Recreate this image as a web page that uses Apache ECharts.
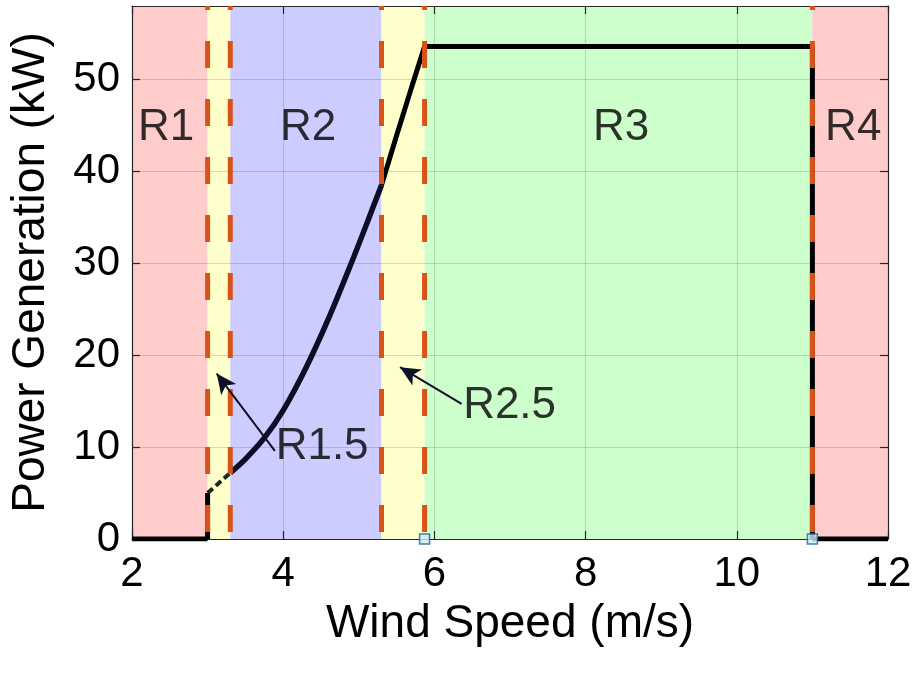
<!DOCTYPE html>
<html>
<head>
<meta charset="utf-8">
<script src="https://cdn.jsdelivr.net/npm/echarts@6/dist/echarts.min.js"></script>
<style>
html,body{margin:0;padding:0;background:#fff;}
#chart{width:916px;height:676px;}
</style>
</head>
<body>
<div id="chart"></div>
<script>
// ---- data ----
const xTickValues = [2, 4, 6, 8, 10, 12];
const yTickValues = [0, 10, 20, 30, 40, 50];

// operating regions (wind speed bounds)
const regionNames = ['R1', 'R1.5', 'R2', 'R2.5', 'R3', 'R4'];
const regionStart = [2.0, 3.0, 3.3, 5.3, 5.87, 11.0];
const regionEnd   = [3.0, 3.3, 5.3, 5.87, 11.0, 12.0];

// dashed boundary lines
const boundaryX = [3.0, 3.3, 5.3, 5.87, 11.0];

// power curve pieces
const offLeftV = [2.0, 3.0];
const offLeftP = [0, 0];
const cutInV = [3.0, 3.0];
const cutInP = [0, 5.0];
const r15V = [3.0, 3.15, 3.3];
const r15P = [5.0, 6.1, 7.2];
const r2V = [3.3, 3.5, 3.75, 4.0, 4.3, 4.6, 4.9, 5.1, 5.3];
const r2P = [7.2, 8.7, 11.0, 14.0, 18.6, 24.0, 30.0, 34.2, 38.5];
const r25V = [5.3, 5.5, 5.7, 5.87];
const r25P = [38.5, 43.9, 49.2, 53.6];
const ratedV = [5.87, 11.0];
const ratedP = [53.6, 53.6];
const cutOutV = [11.0, 11.0];
const cutOutP = [53.6, 0];
const offRightV = [11.0, 12.0];
const offRightP = [0, 0];

// marker points on the axis
const markerV = [5.87, 11.0];
const markerP = [0, 0];

// region labels
const labelText = ['R1', 'R2', 'R3', 'R4'];
const labelV = [2.45, 4.33, 8.47, 11.54];
const labelP = [44.7, 44.7, 44.7, 44.7];

// annotations (arrow from text to region)
const annText = ['R1.5', 'R2.5'];
const annTextV = [3.90, 6.38];
const annTextP = [10.0, 14.5];
const annTailV = [3.89, 6.36];
const annTailP = [9.6, 14.7];
const annTipV = [3.12, 5.545];
const annTipP = [18.0, 18.7];

// ---- build ----
const zip = (a, b) => a.map((v, i) => [v, b[i]]);
const regionColors = ['#FFCCCC', '#FFFFCC', '#CCCCFF', '#FFFFCC', '#CCFFCC', '#FFCCCC'];
const FONT = 'Liberation Sans, Arial, sans-serif';
const orange = '#D95319';

const chart = echarts.init(document.getElementById('chart'), null, {renderer: 'canvas'});

const axisCommon = {
  axisLine: {show: true, onZero: false, lineStyle: {color: '#262626', width: 1.2}},
  axisTick: {show: true, inside: true, length: 8, lineStyle: {color: '#262626', width: 1.2}},
};

const series = [];

// background regions
series.push({
  type: 'custom',
  z: -1,
  silent: true,
  data: regionStart.map((s, i) => [s, regionEnd[i], i]),
  renderItem: function (params, api) {
    const s = api.value(0), e = api.value(1), idx = api.value(2);
    const p0 = api.coord([s, 58]);
    const p1 = api.coord([e, 0]);
    return {
      type: 'rect',
      shape: {x: p0[0], y: p0[1], width: p1[0] - p0[0], height: p1[1] - p0[1]},
      style: {fill: regionColors[idx]}
    };
  },
  encode: {x: [0, 1]}
});

const thick = (data, extra) => Object.assign({
  type: 'line', data: data, symbol: 'none', silent: true, z: 3,
  lineStyle: {color: '#000000', width: 5, cap: 'butt', join: 'round'}
}, extra || {});

series.push(thick(zip(offLeftV, offLeftP)));
series.push(thick(zip(cutInV, cutInP), {lineStyle: {color: '#000', width: 5}}));
series.push(thick(zip(r15V, r15P), {lineStyle: {color: '#1a2a1a', width: 4, type: [7, 4]}}));
series.push(thick(zip(r2V, r2P), {smooth: 0.3, lineStyle: {color: '#0d0d26', width: 5.5}}));
series.push(thick(zip(r25V, r25P), {lineStyle: {color: '#000', width: 5}}));
series.push(thick(zip(ratedV, ratedP)));
series.push(thick(zip(cutOutV, cutOutP), {lineStyle: {color: '#000', width: 5}}));
series.push(thick(zip(offRightV, offRightP)));

// dashed boundary lines (on top of the curve)
boundaryX.forEach(function (x) {
  series.push({
    type: 'line', data: [[x, 58], [x, 0]], symbol: 'none', silent: true, z: 4,
    lineStyle: {color: orange, width: 5, type: [27, 31], dashOffset: 23, cap: 'butt'}
  });
});

// square markers
series.push({
  type: 'scatter', data: zip(markerV, markerP), symbol: 'rect', symbolSize: 10, z: 6,
  itemStyle: {color: '#c9ecf8', borderColor: '#1f5f9e', borderWidth: 1.5}
});

// region labels
series.push({
  type: 'scatter', z: 7, symbolSize: 0, silent: true,
  data: labelV.map((v, i) => [v, labelP[i], labelText[i]]),
  label: {show: true, position: 'inside', formatter: p => p.value[2],
    fontFamily: FONT, fontSize: 44, color: '#000'}
});

// annotation texts
series.push({
  type: 'scatter', z: 7, symbolSize: 0, silent: true,
  data: annTextV.map((v, i) => [v, annTextP[i], annText[i]]),
  label: {show: true, position: 'inside', align: 'left', formatter: p => p.value[2],
    fontFamily: FONT, fontSize: 44, color: '#000'}
});

// annotation arrows
series.push({
  type: 'line', data: [], z: 7, silent: true,
  markLine: {
    silent: true, symbol: ['none', 'arrow'], symbolSize: [14, 20], animation: false,
    label: {show: false},
    lineStyle: {color: '#10102a', width: 2, type: 'solid'},
    data: annTipV.map((v, i) => [{coord: [annTailV[i], annTailP[i]]}, {coord: [v, annTipP[i]]}])
  }
});

const option = {
  animation: false,
  backgroundColor: '#ffffff',
  grid: {left: 132, right: 28, top: 6, bottom: 137, containLabel: false},
  xAxis: [
    Object.assign({
      type: 'value', min: 2, max: 12, interval: 2, position: 'bottom',
      name: 'Wind Speed (m/s)', nameLocation: 'middle', nameGap: 62,
      nameTextStyle: {fontFamily: FONT, fontSize: 46, color: '#000'},
      axisLabel: {fontFamily: FONT, fontSize: 42, color: '#000', margin: 14,
        formatter: v => xTickValues.indexOf(v) >= 0 ? String(v) : ''},
      splitLine: {show: true, lineStyle: {color: 'rgba(38,38,38,0.17)', width: 1}}
    }, axisCommon),
    Object.assign({
      type: 'value', min: 2, max: 12, interval: 2, position: 'top',
      axisLabel: {show: false}, splitLine: {show: false}
    }, axisCommon)
  ],
  yAxis: [
    Object.assign({
      type: 'value', min: 0, max: 58, interval: 10, position: 'left',
      name: 'Power Generation (kW)', nameLocation: 'middle', nameGap: 78,
      nameTextStyle: {fontFamily: FONT, fontSize: 46, color: '#000'},
      axisLabel: {fontFamily: FONT, fontSize: 42, color: '#000', margin: 12, showMaxLabel: false,
        formatter: v => yTickValues.indexOf(v) >= 0 ? String(v) : ''},
      splitLine: {show: true, lineStyle: {color: 'rgba(38,38,38,0.17)', width: 1}}
    }, axisCommon),
    Object.assign({
      type: 'value', min: 0, max: 58, interval: 10, position: 'right',
      axisLabel: {show: false}, splitLine: {show: false}
    }, axisCommon)
  ],
  series: series
};
chart.setOption(option);
</script>
</body>
</html>
